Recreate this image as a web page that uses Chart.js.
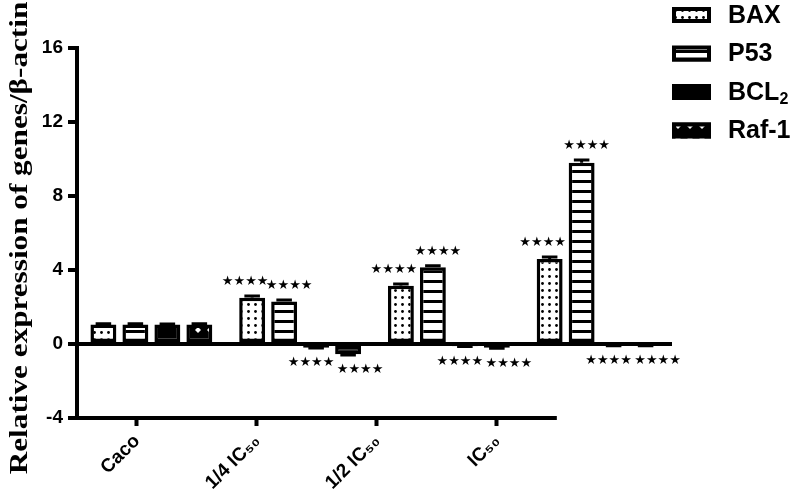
<!DOCTYPE html>
<html>
<head>
<meta charset="utf-8">
<script src="https://cdn.jsdelivr.net/npm/chart.js@4"></script>
<style>
  html, body { margin: 0; padding: 0; background: #fff; }
</style>
</head>
<body>
<canvas id="geneChart" width="793" height="498"></canvas>
<script>
// data
const categories = ["Caco", "1/4 IC₅₀", "1/2 IC₅₀", "IC₅₀"];
const genes = ["BAX", "P53", "BCL₂", "Raf-1"];
const baxValues = [1.05, 2.5, 3.15, 4.6];
const p53Values = [1.05, 2.3, 4.15, 9.8];
const bcl2Values = [1.05, -0.2, -0.12, -0.08];
const raf1Values = [1.05, -0.55, -0.2, -0.08];
const baxErr = [0.05, 0.1, 0.1, 0.1];
const p53Err = [0.05, 0.08, 0.08, 0.15];
const bcl2Err = [0.03, 0.02, 0.02, 0.01];
const raf1Err = [0.04, 0.05, 0.03, 0.01];
const stars = ["", "****", "****", "****"];
const yTicks = [-4, 0, 4, 8, 12, 16];
const labelTicks = [0.5, 1.5, 2.5, 3.5];
const yTitle = "Relative expression of genes/β-actin";

document.addEventListener("DOMContentLoaded", function () {

    function makePattern(size, draw) {
        const c = document.createElement("canvas");
        c.width = size[0];
        c.height = size[1];
        const g = c.getContext("2d");
        draw(g, size[0], size[1]);
        return g.createPattern(c, "repeat");
    }

    const dotFill = makePattern([7, 7], (g, w, h) => {
        g.fillStyle = "#fff"; g.fillRect(0, 0, w, h);
        g.fillStyle = "#000"; g.beginPath(); g.arc(3.5, 3.5, 1.4, 0, Math.PI * 2); g.fill();
    });
    const stripeFill = makePattern([10, 10], (g, w, h) => {
        g.fillStyle = "#fff"; g.fillRect(0, 0, w, h);
        g.fillStyle = "#000"; g.fillRect(0, 0, w, 3);
    });
    const diamondFill = makePattern([12, 12], (g, w, h) => {
        g.fillStyle = "#000"; g.fillRect(0, 0, w, h);
        g.fillStyle = "#fff";
        g.beginPath(); g.moveTo(6, 3); g.lineTo(9, 6); g.lineTo(6, 9); g.lineTo(3, 6); g.closePath(); g.fill();
    });

    const fills = [dotFill, stripeFill, "#000", diamondFill];
    const values = [baxValues, p53Values, bcl2Values, raf1Values];
    const errors = [baxErr, p53Err, bcl2Err, raf1Err];
    // nudge star groups sideways so neighbours do not collide
    const starShift = [-7, 5, -5, 12];

    const datasets = genes.map((g, i) => ({
        label: g,
        data: values[i],
        errors: errors[i],
        backgroundColor: fills[i],
        borderColor: "#000",
        borderWidth: 3.5,
        borderSkipped: false,
        barPercentage: 0.81,
        categoryPercentage: 0.86
    }));

    // error caps, stars, bottom axis line, legend, y title
    const marksPlugin = {
        id: "marks",
        afterDatasetsDraw(chart) {
            const c = chart.ctx;
            const y = chart.scales.y;
            c.save();
            chart.data.datasets.forEach((ds, di) => {
                const meta = chart.getDatasetMeta(di);
                meta.data.forEach((bar, i) => {
                    const v = ds.data[i];
                    const e = ds.errors[i];
                    const sign = v >= 0 ? 1 : -1;
                    const yEnd = y.getPixelForValue(v + sign * e);
                    const yVal = y.getPixelForValue(v);
                    c.strokeStyle = "#000";
                    c.lineWidth = 3;
                    c.beginPath();
                    c.moveTo(bar.x, yVal);
                    c.lineTo(bar.x, yEnd);
                    c.moveTo(bar.x - bar.width * 0.3, yEnd);
                    c.lineTo(bar.x + bar.width * 0.3, yEnd);
                    c.stroke();
                    if (stars[i]) {
                        c.fillStyle = "#000";
                        c.font = "bold 13px 'DejaVu Sans'";
                        c.textAlign = "center";
                        c.textBaseline = "middle";
                        const txt = stars[i].replace(/\*/g, "★");
                        c.fillText(txt, bar.x + starShift[di], yEnd + (v >= 0 ? -14 : 15));
                    }
                });
            });
            c.restore();
        },
        afterDraw(chart) {
            const c = chart.ctx;
            const xb = chart.scales.xb;
            const area = chart.chartArea;
            c.save();
            c.strokeStyle = "#000";
            c.lineWidth = 4;
            c.beginPath();
            c.moveTo(xb.getPixelForValue(0) - 2, area.bottom);
            c.lineTo(xb.getPixelForValue(4), area.bottom);
            c.stroke();

            // y title, stretched along its length like the original
            c.save();
            c.translate(27, (area.top + area.bottom) / 2 + 5);
            c.rotate(-Math.PI / 2);
            c.scale(1.2, 1);
            c.font = "bold 26px 'Liberation Serif', 'Times New Roman', serif";
            c.fillStyle = "#000";
            c.textAlign = "center";
            c.textBaseline = "alphabetic";
            c.fillText(yTitle, 0, 0);
            c.restore();

            // legend
            const lx = 672, ly = 7, pitch = 38.5;
            chart.data.datasets.forEach((ds, i) => {
                const top = ly + i * pitch;
                c.fillStyle = ds.backgroundColor;
                c.fillRect(lx, top, 39, 16);
                c.lineWidth = 4;
                c.strokeStyle = "#000";
                c.strokeRect(lx + 2, top + 2, 35, 12);
                c.fillStyle = "#000";
                c.textAlign = "left";
                c.textBaseline = "middle";
                const m = ds.label.match(/^(.*?)([₀-₉]+)$/);
                c.font = "bold 25px 'Liberation Sans'";
                if (m) {
                    c.fillText(m[1], lx + 56, top + 9);
                    const w = c.measureText(m[1]).width;
                    const sub = m[2].replace(/[₀-₉]/g, ch => String(ch.charCodeAt(0) - 0x2080));
                    c.font = "bold 16px 'Liberation Sans'";
                    c.fillText(sub, lx + 56 + w, top + 16);
                } else {
                    c.fillText(ds.label, lx + 56, top + 9);
                }
            });
            c.restore();
        }
    };

    const ctx = document.getElementById("geneChart");

    new Chart(ctx, {
        type: "bar",
        data: {
            labels: categories,
            datasets: datasets
        },
        plugins: [marksPlugin],
        options: {
            responsive: false,
            animation: false,
            layout: { padding: { top: 48, right: 121, left: 0, bottom: 0 } },
            font: { family: "'Liberation Sans', Arial, sans-serif" },
            plugins: {
                legend: { display: false },
                tooltip: { enabled: false }
            },
            scales: {
                x: {
                    display: false,
                    offset: true
                },
                xb: {
                    type: "linear",
                    position: "bottom",
                    offset: false,
                    min: 0,
                    max: 4.96,
                    afterBuildTicks: s => { s.ticks = labelTicks.map(v => ({ value: v })); },
                    afterFit: s => { s.height = 80; },
                    border: { display: false },
                    grid: {
                        offset: false,
                        drawOnChartArea: false,
                        drawTicks: true,
                        tickLength: 8,
                        tickWidth: 4,
                        tickColor: "#000"
                    },
                    ticks: {
                        autoSkip: false,
                        minRotation: 45,
                        maxRotation: 45,
                        padding: 4,
                        color: "#000",
                        font: { size: 19, weight: "bold", family: "'Liberation Sans', Arial, sans-serif" },
                        callback: (v, i) => categories[i]
                    }
                },
                y: {
                    min: -4,
                    max: 16,
                    afterBuildTicks: s => { s.ticks = yTicks.map(v => ({ value: v })); },
                    afterFit: s => { s.width = 77; },
                    border: { display: true, color: "#000", width: 4 },
                    grid: {
                        color: c => (c.tick && c.tick.value === 0 ? "#000" : "rgba(0,0,0,0)"),
                        lineWidth: 4,
                        tickColor: "#000",
                        tickWidth: 4,
                        tickLength: 9
                    },
                    ticks: {
                        padding: 5,
                        color: "#000",
                        font: { size: 19, weight: "bold", family: "'Liberation Sans', Arial, sans-serif" }
                    }
                }
            }
        }
    });
});
</script>
</body>
</html>
